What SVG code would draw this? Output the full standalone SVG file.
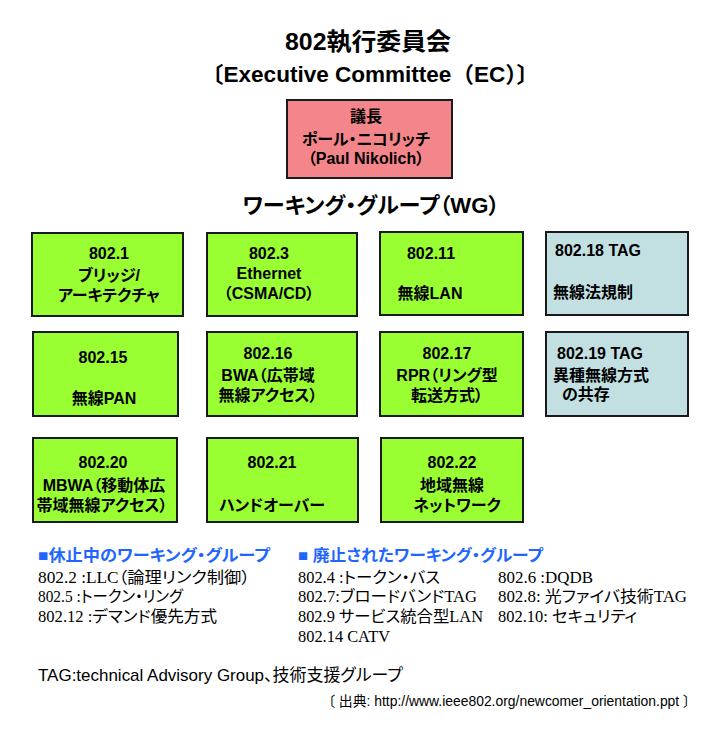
<svg xmlns="http://www.w3.org/2000/svg" width="726" height="730" viewBox="0 0 726 730">
<style>
.bg{fill:#ffffff}
.box{stroke:#1a1a1a;stroke-width:2}
.g{fill:#99FF33}
.b{fill:#C2E0E2}
.p{fill:#F4858A}
text{font-family:"Liberation Sans","Noto Sans CJK JP",sans-serif;fill:#000;font-feature-settings:"palt"}
.t{font-size:16px;font-weight:bold}
.title{font-size:24px;font-weight:bold}
.hdr{font-size:16px;font-weight:bold;fill:#1E66FF}
.lst{font-family:"Liberation Serif","Noto Sans CJK JP",serif;font-size:16px}
.note{font-size:17px}
.src{font-size:14px}
</style>
<rect class="bg" x="0" y="0" width="726" height="730"/>

<g id="title">
<text class="title" x="368" y="50" text-anchor="middle" textLength="166" lengthAdjust="spacingAndGlyphs">802執行委員会</text>
<text class="title" x="370" y="82" text-anchor="middle" textLength="338" lengthAdjust="spacingAndGlyphs" style="font-size:22px;font-feature-settings:normal">〔Executive Committee（EC）〕</text>
</g>

<g id="chair">
<rect class="box p" x="287" y="100" width="165" height="78"/>
<text class="t" x="366" y="122" text-anchor="middle">議長</text>
<text class="t" x="366" y="145" text-anchor="middle">ポール・ニコリッチ</text>
<text class="t" x="366" y="164" text-anchor="middle">（Paul Nikolich）</text>
</g>

<g id="wg-title">
<text class="title" x="371" y="213" text-anchor="middle" style="font-size:22px" textLength="257" lengthAdjust="spacingAndGlyphs">ワーキング・グループ（WG）</text>
</g>

<g id="wg-802-1">
<rect class="box g" x="32" y="233" width="151" height="83"/>
<text class="t" x="109" y="259" text-anchor="middle">802.1</text>
<text class="t" x="109" y="281" text-anchor="middle">ブリッジ/</text>
<text class="t" x="109" y="301" text-anchor="middle">アーキテクチャ</text>
</g>

<g id="wg-802-3">
<rect class="box g" x="207" y="233" width="150" height="83"/>
<text class="t" x="269" y="259" text-anchor="middle">802.3</text>
<text class="t" x="269" y="279" text-anchor="middle">Ethernet</text>
<text class="t" x="269" y="299" text-anchor="middle">（CSMA/CD）</text>
</g>

<g id="wg-802-11">
<rect class="box g" x="380" y="232" width="143" height="83"/>
<text class="t" x="431" y="259" text-anchor="middle">802.11</text>
<text class="t" x="430" y="299" text-anchor="middle">無線LAN</text>
</g>

<g id="wg-802-18">
<rect class="box b" x="546" y="232" width="142" height="83"/>
<text class="t" x="555" y="256">802.18 TAG</text>
<text class="t" x="553" y="298">無線法規制</text>
</g>

<g id="wg-802-15">
<rect class="box g" x="33" y="332" width="145" height="84"/>
<text class="t" x="103" y="363" text-anchor="middle">802.15</text>
<text class="t" x="104" y="404" text-anchor="middle">無線PAN</text>
</g>

<g id="wg-802-16">
<rect class="box g" x="207" y="332" width="150" height="84"/>
<text class="t" x="268" y="359" text-anchor="middle">802.16</text>
<text class="t" x="268" y="381" text-anchor="middle">BWA（広帯域</text>
<text class="t" x="268" y="401" text-anchor="middle">無線アクセス）</text>
</g>

<g id="wg-802-17">
<rect class="box g" x="380" y="332" width="143" height="84"/>
<text class="t" x="447" y="359" text-anchor="middle">802.17</text>
<text class="t" x="447" y="381" text-anchor="middle">RPR（リング型</text>
<text class="t" x="447" y="401" text-anchor="middle">転送方式）</text>
</g>

<g id="wg-802-19">
<rect class="box b" x="546" y="332" width="142" height="84"/>
<text class="t" x="557" y="359">802.19 TAG</text>
<text class="t" x="553" y="381">異種無線方式</text>
<text class="t" x="562" y="400">の共存</text>
</g>

<g id="wg-802-20">
<rect class="box g" x="33" y="438" width="144" height="84"/>
<text class="t" x="103" y="468" text-anchor="middle">802.20</text>
<text class="t" x="104" y="491" text-anchor="middle">MBWA（移動体広</text>
<text class="t" x="102" y="511" text-anchor="middle">帯域無線アクセス）</text>
</g>

<g id="wg-802-21">
<rect class="box g" x="207" y="438" width="151" height="84"/>
<text class="t" x="272" y="468" text-anchor="middle">802.21</text>
<text class="t" x="272" y="511" text-anchor="middle">ハンドオーバー</text>
</g>

<g id="wg-802-22">
<rect class="box g" x="381" y="438" width="142" height="84"/>
<text class="t" x="452" y="468" text-anchor="middle">802.22</text>
<text class="t" x="452" y="491" text-anchor="middle">地域無線</text>
<text class="t" x="457" y="511" text-anchor="middle">ネットワーク</text>
</g>

<g id="connectors"></g>

<g id="dormant">
<text class="hdr" x="38" y="561" textLength="232" lengthAdjust="spacingAndGlyphs">■休止中のワーキング・グループ</text>
<text class="lst" x="38" y="583" textLength="212" lengthAdjust="spacingAndGlyphs">802.2 :LLC（論理リンク制御）</text>
<text class="lst" x="38" y="602" textLength="145" lengthAdjust="spacingAndGlyphs">802.5 :トークン・リング</text>
<text class="lst" x="38" y="622" textLength="179" lengthAdjust="spacingAndGlyphs">802.12 :デマンド優先方式</text>
</g>

<g id="disbanded">
<text class="hdr" x="298" y="561" textLength="245" lengthAdjust="spacingAndGlyphs">■ 廃止されたワーキング・グループ</text>
<text class="lst" x="298" y="583" textLength="142" lengthAdjust="spacingAndGlyphs">802.4 :トークン・バス</text>
<text class="lst" x="298" y="602" textLength="179" lengthAdjust="spacingAndGlyphs">802.7:ブロードバンドTAG</text>
<text class="lst" x="298" y="622" textLength="185" lengthAdjust="spacingAndGlyphs">802.9 サービス統合型LAN</text>
<text class="lst" x="298" y="642" textLength="92" lengthAdjust="spacingAndGlyphs">802.14 CATV</text>
<text class="lst" x="498" y="583" textLength="95" lengthAdjust="spacingAndGlyphs">802.6 :DQDB</text>
<text class="lst" x="498" y="602" textLength="189" lengthAdjust="spacingAndGlyphs">802.8: 光ファイバ技術TAG</text>
<text class="lst" x="498" y="622" textLength="139" lengthAdjust="spacingAndGlyphs">802.10: セキュリティ</text>
</g>

<g id="notes">
<text class="note" x="38" y="681" textLength="365" lengthAdjust="spacingAndGlyphs">TAG:technical Advisory Group、技術支援グループ</text>
<text class="src" x="328" y="706" textLength="362" lengthAdjust="spacingAndGlyphs">〔 出典: http://www.ieee802.org/newcomer_orientation.ppt 〕</text>
</g>
</svg>
